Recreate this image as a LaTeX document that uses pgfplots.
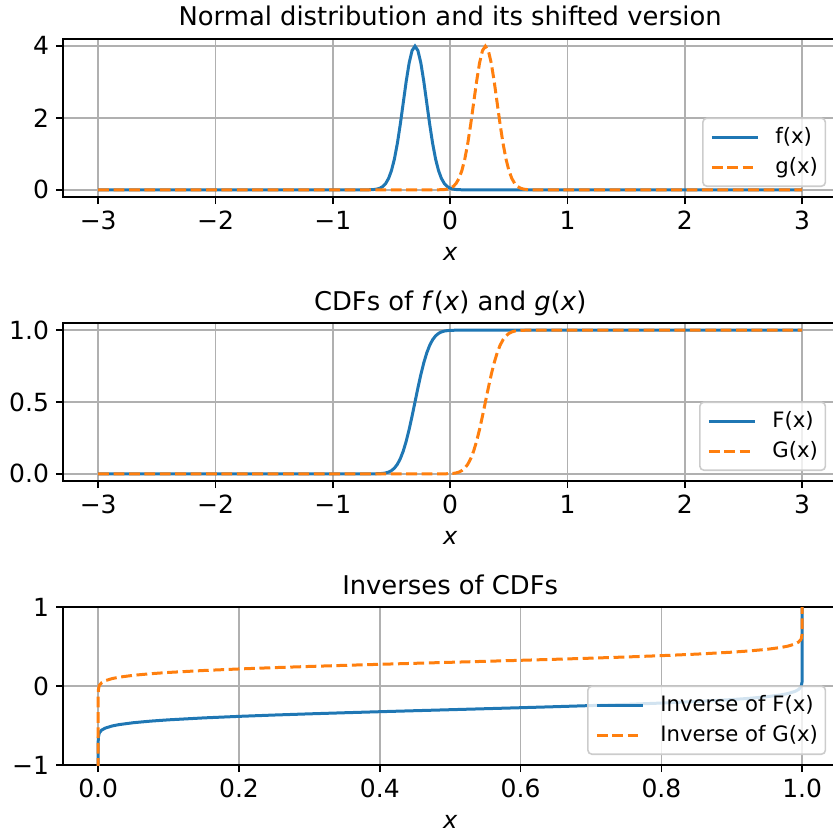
\documentclass[border=0pt]{standalone}
\usepackage{fontspec}
\setmainfont{DejaVu Sans}
\usepackage{pgfplots}
\pgfplotsset{compat=1.18}
\definecolor{tabblue}{HTML}{1F77B4}
\definecolor{taborange}{HTML}{FF7F0E}
\definecolor{gridgray}{HTML}{B0B0B0}
\definecolor{leggray}{HTML}{CCCCCC}
\pgfplotsset{
  mplaxis/.style={
    scale only axis, width=387.2pt, height=79pt,
    anchor=north west,
    axis line style={line width=0.8pt, black},
    tick align=outside, xtick pos=bottom, ytick pos=left,
    major tick length=3.5pt,
    every tick/.style={black, line width=0.8pt},
    grid=major, grid style={gridgray, line width=0.8pt},
    ticklabel style={font=\fontsize{12.5}{14}\selectfont},
    xlabel style={font=\fontsize{12}{14}\selectfont\itshape, yshift=-2pt},
    title style={font=\fontsize{12.9}{15}\selectfont, at={(0.5,1)}, anchor=base, yshift=0.5pt},
    legend style={at={(1,0)}, anchor=south east, xshift=-5.6pt, yshift=5pt,
      draw=leggray, line width=0.8pt, rounded corners=2pt, fill=white,
      fill opacity=0.8, text opacity=1, draw opacity=1,
      font=\fontsize{10.6}{12}\selectfont,
      inner xsep=3.75pt, inner ysep=4pt, row sep=4pt, column sep=8pt,
      nodes={inner sep=0pt, text height=8.4pt, text depth=2.6pt}},
    legend cell align=left,
    legend image code/.code={\draw[#1] (0pt,0pt) -- (23pt,0pt);},
  },
  fline/.style={tabblue, solid, line width=1.5pt},
  gline/.style={taborange, line width=1.5pt, dash pattern=on 5.4pt off 2.3pt},
}
\begin{document}
\begin{tikzpicture}
\useasboundingbox (-31.5pt,-417pt) rectangle (384.5pt,0pt);
% ---------- Panel 1 ----------
\begin{axis}[mplaxis, at={(0pt,-19.5pt)},
  xmin=-3.3, xmax=3.3, ymin=-0.1995, ymax=4.189,
  xtick={-3,-2,-1,0,1,2,3}, xticklabels={−3,−2,−1,0,1,2,3},
  ytick={0,2,4}, yticklabels={0,2,4},
  xlabel={x},
  title={Normal distribution and its shifted version}]
\addplot[fline] coordinates {
(-3,0) (-0.8,0) (-0.75,0.00016) (-0.7,0.00134) (-0.675,0.00353) (-0.65,0.00873)
(-0.625,0.0203) (-0.6,0.0443) (-0.575,0.0909) (-0.55,0.1753) (-0.525,0.3174)
(-0.5,0.5399) (-0.475,0.8628) (-0.45,1.2952) (-0.425,1.8265) (-0.4,2.4197)
(-0.375,3.0114) (-0.35,3.5207) (-0.325,3.8666) (-0.3,3.9894) (-0.275,3.8666)
(-0.25,3.5207) (-0.225,3.0114) (-0.2,2.4197) (-0.175,1.8265) (-0.15,1.2952)
(-0.125,0.8628) (-0.1,0.5399) (-0.075,0.3174) (-0.05,0.1753) (-0.025,0.0909)
(0,0.0443) (0.025,0.0203) (0.05,0.00873) (0.075,0.00353) (0.1,0.00134)
(0.15,0.00016) (0.2,0) (3,0)};
\addlegendentry{f(x)}
\addplot[gline] coordinates {
(-3,0) (-0.2,0) (-0.15,0.00016) (-0.1,0.00134) (-0.075,0.00353) (-0.05,0.00873)
(-0.025,0.0203) (0,0.0443) (0.025,0.0909) (0.05,0.1753) (0.075,0.3174)
(0.1,0.5399) (0.125,0.8628) (0.15,1.2952) (0.175,1.8265) (0.2,2.4197)
(0.225,3.0114) (0.25,3.5207) (0.275,3.8666) (0.3,3.9894) (0.325,3.8666)
(0.35,3.5207) (0.375,3.0114) (0.4,2.4197) (0.425,1.8265) (0.45,1.2952)
(0.475,0.8628) (0.5,0.5399) (0.525,0.3174) (0.55,0.1753) (0.575,0.0909)
(0.6,0.0443) (0.625,0.0203) (0.65,0.00873) (0.675,0.00353) (0.7,0.00134)
(0.75,0.00016) (0.8,0) (3,0)};
\addlegendentry{g(x)}
\end{axis}
% ---------- Panel 2 ----------
\begin{axis}[mplaxis, at={(0pt,-161.5pt)},
  xmin=-3.3, xmax=3.3, ymin=-0.05, ymax=1.05,
  xtick={-3,-2,-1,0,1,2,3}, xticklabels={−3,−2,−1,0,1,2,3},
  ytick={0,0.5,1}, yticklabels={0.0,0.5,1.0},
  xlabel={x},
  title={CDFs of \textit{f}(\textit{x}) and \textit{g}(\textit{x})}]
\addplot[fline] coordinates {
(-3,0) (-0.8,0) (-0.75,0.0000034) (-0.7,0.0000317) (-0.675,0.0000884) (-0.65,0.000233)
(-0.625,0.000577) (-0.6,0.00135) (-0.575,0.00298) (-0.55,0.00621) (-0.525,0.01222)
(-0.5,0.02275) (-0.475,0.04006) (-0.45,0.06681) (-0.425,0.10565) (-0.4,0.15866)
(-0.375,0.22663) (-0.35,0.30854) (-0.325,0.40129) (-0.3,0.5) (-0.275,0.59871)
(-0.25,0.69146) (-0.225,0.77337) (-0.2,0.84134) (-0.175,0.89435) (-0.15,0.93319)
(-0.125,0.95994) (-0.1,0.97725) (-0.075,0.98778) (-0.05,0.99379) (-0.025,0.99702)
(0,0.99865) (0.025,0.99942) (0.05,0.99977) (0.1,0.99997) (0.15,1) (0.2,1) (3,1)};
\addlegendentry{F(x)}
\addplot[gline] coordinates {
(-3,0) (-0.2,0) (-0.15,0.0000034) (-0.1,0.0000317) (-0.075,0.0000884) (-0.05,0.000233)
(-0.025,0.000577) (0,0.00135) (0.025,0.00298) (0.05,0.00621) (0.075,0.01222)
(0.1,0.02275) (0.125,0.04006) (0.15,0.06681) (0.175,0.10565) (0.2,0.15866)
(0.225,0.22663) (0.25,0.30854) (0.275,0.40129) (0.3,0.5) (0.325,0.59871)
(0.35,0.69146) (0.375,0.77337) (0.4,0.84134) (0.425,0.89435) (0.45,0.93319)
(0.475,0.95994) (0.5,0.97725) (0.525,0.98778) (0.55,0.99379) (0.575,0.99702)
(0.6,0.99865) (0.625,0.99942) (0.65,0.99977) (0.7,0.99997) (0.75,1) (0.8,1) (3,1)};
\addlegendentry{G(x)}
\end{axis}
% ---------- Panel 3 ----------
\begin{axis}[mplaxis, at={(0pt,-303.5pt)},
  xmin=-0.05, xmax=1.05, ymin=-1, ymax=1,
  xtick={0,0.2,0.4,0.6,0.8,1}, xticklabels={0.0,0.2,0.4,0.6,0.8,1.0},
  ytick={-1,0,1}, yticklabels={−1,0,1},
  xlabel={x},
  title={Inverses of CDFs}]
\addplot[fline] coordinates {
(0,-3) (0.0000003,-0.8) (0.0000034,-0.75) (0.0000317,-0.7) (0.000233,-0.65)
(0.00135,-0.6) (0.002,-0.5878) (0.005,-0.5576) (0.01,-0.5326) (0.02,-0.5054)
(0.03,-0.4881) (0.05,-0.4645) (0.075,-0.4440) (0.1,-0.4282) (0.15,-0.4036)
(0.2,-0.3842) (0.25,-0.3674) (0.3,-0.3524) (0.35,-0.3385) (0.4,-0.3253)
(0.45,-0.3126) (0.5,-0.3) (0.55,-0.2874) (0.6,-0.2747) (0.65,-0.2615)
(0.7,-0.2476) (0.75,-0.2326) (0.8,-0.2158) (0.85,-0.1964) (0.9,-0.1718)
(0.925,-0.1560) (0.95,-0.1355) (0.97,-0.1119) (0.98,-0.0946) (0.99,-0.0674)
(0.995,-0.0424) (0.998,-0.0122) (0.99865,0) (0.99977,0.05) (0.99997,0.1)
(0.9999966,0.15) (1,0.2) (1,3)};
\addlegendentry{Inverse of F(x)}
\addplot[gline] coordinates {
(0,-3) (0.0000003,-0.2) (0.0000034,-0.15) (0.0000317,-0.1) (0.000233,-0.05)
(0.00135,0) (0.002,0.0122) (0.005,0.0424) (0.01,0.0674) (0.02,0.0946)
(0.03,0.1119) (0.05,0.1355) (0.075,0.1560) (0.1,0.1718) (0.15,0.1964)
(0.2,0.2158) (0.25,0.2326) (0.3,0.2476) (0.35,0.2615) (0.4,0.2747)
(0.45,0.2874) (0.5,0.3) (0.55,0.3126) (0.6,0.3253) (0.65,0.3385)
(0.7,0.3524) (0.75,0.3674) (0.8,0.3842) (0.85,0.4036) (0.9,0.4282)
(0.925,0.4440) (0.95,0.4645) (0.97,0.4881) (0.98,0.5054) (0.99,0.5326)
(0.995,0.5576) (0.998,0.5878) (0.99865,0.6) (0.99977,0.65) (0.99997,0.7)
(0.9999966,0.75) (1,0.8) (1,3)};
\addlegendentry{Inverse of G(x)}
\end{axis}
\end{tikzpicture}
\end{document}
